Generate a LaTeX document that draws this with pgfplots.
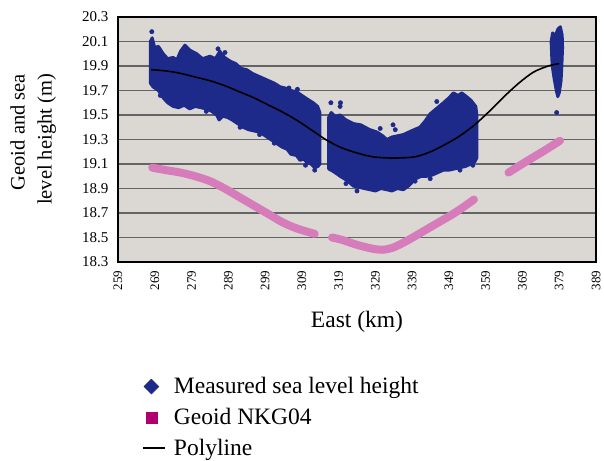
\documentclass[border=0pt]{standalone}
\usepackage{fontspec}
\setmainfont{Liberation Serif}
\usepackage{pgfplots}
\pgfplotsset{compat=1.18}
\pgfplotsset{lineleg/.style={legend image code/.code={\draw[##1] (0pt,0pt) -- (22pt,0pt);}}}
\definecolor{bgc}{RGB}{219,216,212}
\definecolor{gridc}{RGB}{100,100,100}
\definecolor{navy}{RGB}{30,42,138}
\definecolor{pinkl}{RGB}{214,124,186}
\definecolor{magsq}{RGB}{176,0,112}
\begin{document}
\begin{tikzpicture}
\begin{axis}[
  at={(0,0)}, anchor=south west,
  scale only axis, width=478pt, height=245pt,
  xmin=259, xmax=389, ymin=18.3, ymax=20.3,
  xtick={259,269,...,389},
  ytick={18.3,18.5,...,20.31},
  yticklabel style={/pgf/number format/fixed, /pgf/number format/fixed zerofill, /pgf/number format/precision=1},
  /pgf/number format/assume math mode=true,
  xticklabel style={rotate=90, anchor=east, font=\fontsize{13}{15}\selectfont},
  yticklabel style={font=\fontsize{15}{17}\selectfont},
  xticklabel shift=5pt,
  yticklabel shift=6pt,
  major tick length=0pt,
  tick style={draw=none},
  ymajorgrids,
  grid style={gridc, line width=1.7pt},
  axis line style={black, line width=1.2pt},
  axis background/.style={fill=bgc},
  xlabel={East (km)},
  xlabel style={font=\fontsize{23.5}{28}\selectfont, at={(axis description cs:0.5,-0.245)}, anchor=center},
  ylabel={\begin{tabular}{@{}r@{}}Geoid and sea\\[1pt]level height (m)\end{tabular}},
  ylabel style={font=\fontsize{20.5}{26}\selectfont, at={(axis description cs:-0.178,0.5)}, anchor=center},
  legend style={draw=none, fill=none, font=\fontsize{23.5}{28}\selectfont,
    at={(axis description cs:0.043,-0.455)}, anchor=north west,
    row sep=9pt, column sep=6pt},
  legend cell align=left,
]
\addlegendimage{only marks, mark=square*, mark size=5.3pt, navy, mark options={rotate=45, fill=navy, draw=navy}}
\addlegendentry{Measured sea level height}
\addlegendimage{only marks, mark=square*, mark size=5.5pt, magsq, mark options={fill=magsq, draw=magsq}}
\addlegendentry{Geoid NKG04}
\addlegendimage{black, line width=2.2pt, lineleg}
\addlegendentry{Polyline}

% measured sea level height: dense point clouds (envelopes)
\addplot[forget plot, fill=navy, draw=navy, line width=3pt, line join=round] coordinates {
(267.8,19.76)(267.8,20.10)(268.3,20.13)(269,20.05)(270,20.06)(271.3,20.00)(272.5,19.96)(274,19.97)(275,19.95)(276,20.02)(277.2,20.07)(278.5,20.03)(280.4,20.00)(282,19.96)(284,19.98)(285.5,19.96)(286.7,20.02)(288,19.97)(289.5,19.94)(291,19.92)(292.5,19.88)(294,19.87)(295.5,19.84)(297,19.82)(298.5,19.80)(300,19.78)(301.5,19.76)(303.1,19.73)(304.5,19.72)(306,19.70)(307.6,19.69)(309,19.66)(310.5,19.63)(312.1,19.60)(313.3,19.57)(313.9,19.52)
(313.9,19.10)(313.4,19.08)(312.5,19.07)(311.5,19.10)(310.5,19.11)(309.5,19.14)(308.5,19.13)(307.5,19.17)(306,19.18)(305,19.22)(303.5,19.24)(302,19.27)(300.5,19.30)(299,19.33)(297.5,19.36)(296,19.37)(294.5,19.38)(293,19.40)(291.5,19.43)(290,19.46)(288.8,19.48)(287.5,19.49)(286.5,19.46)(285.8,19.50)(284.5,19.53)(283,19.55)(281.5,19.56)(280,19.57)(278.5,19.55)(277,19.58)(275.5,19.56)(274,19.57)(272.5,19.60)(271.3,19.64)(270,19.70)(268.5,19.73)(267.8,19.76)
} -- cycle;
\addplot[forget plot, fill=navy, draw=navy, line width=3pt, line join=round] coordinates {
(316.3,19.06)(316.3,19.48)(317,19.52)(318,19.49)(319.4,19.50)(321,19.46)(323,19.43)(325,19.42)(327.5,19.38)(329.5,19.36)(331,19.33)(332.1,19.30)(333.5,19.32)(335,19.33)(336.6,19.34)(338,19.36)(339.5,19.38)(341.1,19.40)(342.5,19.45)(343.9,19.51)(345.5,19.55)(347.5,19.60)(349,19.64)(350.2,19.68)(351.5,19.66)(352.5,19.68)(353.8,19.65)(355,19.62)(356.3,19.57)(356.6,19.50)
(356.6,19.15)(356.1,19.12)(355,19.10)(353.5,19.08)(352,19.07)(350.5,19.06)(349,19.05)(347.5,19.05)(346,19.03)(344.5,19.01)(343,19.00)(341.5,19.00)(340,18.98)(339.3,18.96)(338,18.92)(336.6,18.89)(335,18.90)(333.5,18.88)(332.1,18.89)(330.5,18.90)(329,18.88)(327.5,18.89)(326,18.90)(324.5,18.91)(323,18.92)(321.5,18.96)(320.5,18.98)(319.4,19.00)(318.5,19.02)(317.5,19.04)(316.3,19.06)
} -- cycle;
\addplot[forget plot, fill=navy, draw=navy, line width=3pt, line join=round] coordinates {
(377.2,19.88)(377,19.95)(376.8,20.10)(377.2,20.17)(378,20.15)(378.6,20.20)(379.3,20.22)(379.8,20.15)(379.9,20.05)(379.7,19.90)(379.5,19.78)(379.0,19.68)(378.6,19.65)(378.2,19.70)(377.6,19.80)(377.2,19.88)
} -- cycle;
\addplot[forget plot, only marks, mark=*, mark size=2.2pt, navy] coordinates {
(268.2,20.18)(286.2,20.04)(288.1,20.01)(316.9,19.60)(319.5,19.60)(319.4,19.57)(378.3,19.52)(305.5,19.72)(307.8,19.71)(292.2,19.40)(330.3,19.39)(333.8,19.42)(334.4,19.38)(345.7,19.61)(339.8,18.96)(343.9,18.98)(324,18.88)(312.5,19.05)(270.5,19.66)(283,19.53)(297.5,19.34)(301.5,19.27)(310,19.09)(321,18.94)(352,19.05)(355.5,19.09)
};

% geoid NKG04
\addplot[forget plot, pinkl, line width=8pt, line cap=round, smooth] coordinates {
(268.3,19.07)(272,19.05)(276,19.03)(280,19.00)(284,18.96)(288,18.90)(292,18.83)(296,18.76)(300,18.69)(304,18.62)(308,18.57)(312.5,18.53)
};
\addplot[forget plot, pinkl, line width=8pt, line cap=round, smooth] coordinates {
(317.2,18.50)(320,18.48)(324,18.44)(328,18.41)(331,18.40)(334,18.42)(338,18.48)(342,18.55)(346,18.62)(350,18.69)(353,18.75)(355.8,18.81)
};
\addplot[forget plot, pinkl, line width=8pt, line cap=round] coordinates {
(365.2,19.03)(370,19.12)(375,19.21)(379.2,19.29)
};

% polyline
\addplot[forget plot, black, line width=1.6pt, smooth] coordinates {
(268,19.87)(272,19.86)(276,19.84)(280,19.81)(284,19.78)(288,19.74)(292,19.69)(296,19.64)(300,19.58)(304,19.52)(308,19.45)(312,19.37)(316,19.29)(320,19.23)(324,19.19)(328,19.16)(332,19.15)(336,19.15)(340,19.16)(344,19.20)(348,19.26)(352,19.33)(356,19.42)(360,19.53)(364,19.65)(368,19.76)(372,19.85)(376,19.90)(379,19.92)
};
\end{axis}
\pgfresetboundingbox
\path[use as bounding box] (-118pt,-198pt) rectangle (486pt,262pt);
\end{tikzpicture}
\end{document}
